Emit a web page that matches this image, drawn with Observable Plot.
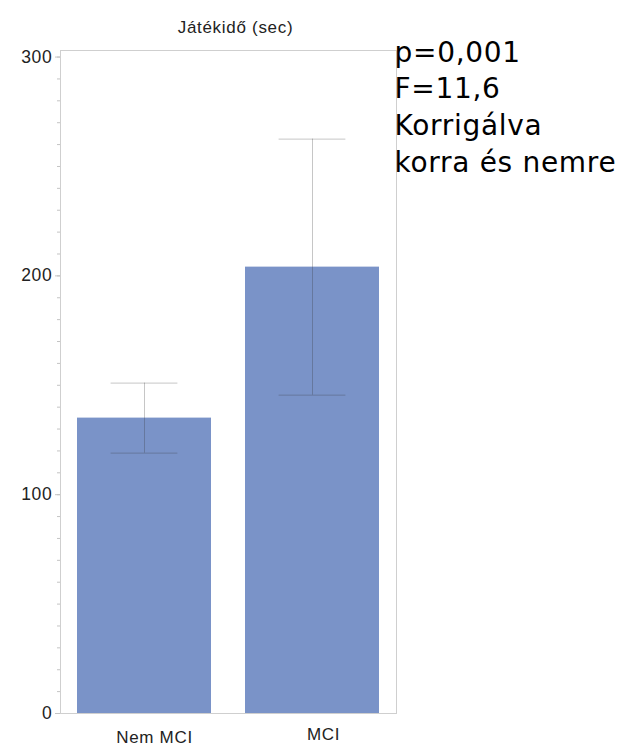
<!DOCTYPE html>
<html>
<head>
<meta charset="utf-8">
<script src="https://cdn.jsdelivr.net/npm/d3@7"></script>
<script src="https://cdn.jsdelivr.net/npm/@observablehq/plot@0.6"></script>
<style>
  html, body { margin: 0; padding: 0; background: #fff; }
  svg text { letter-spacing: 0.7px; }
  g[aria-label="annotation"] text { letter-spacing: 2.4px; }
</style>
</head>
<body>
<div id="chart"></div>
<script>
// ---- data ----
const groups = ["Nem MCI", "MCI"];
const means = [135, 204];
const errors = [16, 58.5];
const majorTicks = [0, 100, 200, 300];
const minorTicks = [0,10,20,30,40,50,60,70,80,90,100,110,120,130,140,150,160,170,180,190,200,210,220,230,240,250,260,270,280,290,300];
const title = "Játékidő (sec)";
const annotation = ["p=0,001", "F=11,6", "Korrigálva", "korra és nemre"];

const rows = groups.map((g, i) => ({group: g, mean: means[i], lo: means[i] - errors[i], hi: means[i] + errors[i]}));

const barColor = "#7a93c8";
const axisFont = "'Liberation Sans', Arial, sans-serif";

const chart = Plot.plot({
  width: 641,
  height: 746,
  marginLeft: 60,
  marginRight: 245,
  marginTop: 50,
  marginBottom: 33,
  style: {fontFamily: axisFont, background: "#fff", overflow: "visible"},
  x: {domain: groups, paddingInner: 0.2, paddingOuter: 0.1, axis: null, label: null},
  y: {domain: [0, 303], axis: null, label: null},
  marks: [
    Plot.frame({stroke: "#cfcfcf"}),
    Plot.barY(rows, {x: "group", y: "mean", fill: barColor}),
    Plot.ruleX(rows, {x: "group", y1: "lo", y2: "hi", stroke: "#333", strokeOpacity: 0.28}),
    Plot.tickY(rows, {x: "group", y: "lo", stroke: "#333", strokeOpacity: 0.28, insetLeft: 33.6, insetRight: 33.6}),
    Plot.tickY(rows, {x: "group", y: "hi", stroke: "#333", strokeOpacity: 0.28, insetLeft: 33.6, insetRight: 33.6}),
    Plot.axisY(minorTicks, {tickSize: 3, text: null, stroke: "#c4c4c4", label: null}),
    Plot.axisY(majorTicks, {tickSize: 5, tickPadding: 3, stroke: "#c4c4c4", fill: "#222", fontSize: 17.5, tickFormat: d => String(d), label: null}),
    Plot.axisX(["Nem MCI"], {tickSize: 0, tickPadding: 17, dx: 10, fill: "#222", fontSize: 17, label: null}),
    Plot.axisX(["MCI"], {tickSize: 0, tickPadding: 14, dx: 11, fill: "#222", fontSize: 17, label: null}),
    Plot.text([title], {frameAnchor: "top", dy: -30, dx: 7, fill: "#222", fontSize: 17}),
    Plot.text([annotation.join("\n")], {
      ariaLabel: "annotation",
      frameAnchor: "top-right", textAnchor: "start", lineAnchor: "top",
      dx: -2, dy: -15, fontSize: 28, lineHeight: 1.31, fill: "#000",
      fontFamily: "'DejaVu Sans', 'Open Sans', sans-serif"
    })
  ]
});
document.getElementById("chart").appendChild(chart);
</script>
</body>
</html>
